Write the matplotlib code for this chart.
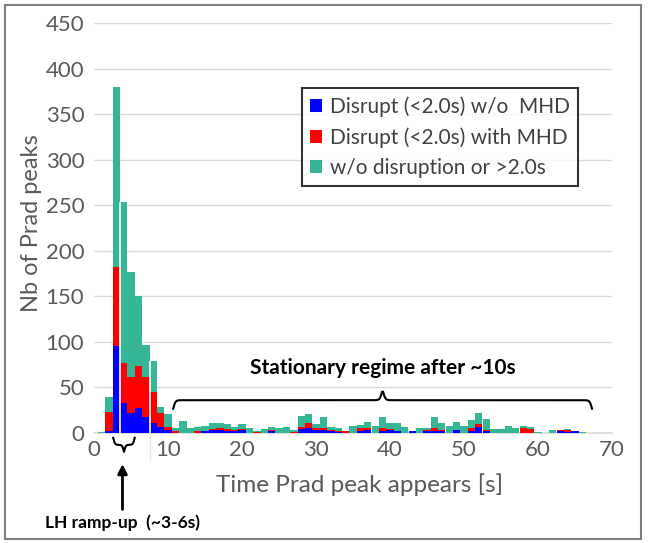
import numpy as np
import matplotlib
matplotlib.use('Agg')
import matplotlib.pyplot as plt
from matplotlib.patches import Rectangle

# time bins [s] (1 s wide, centred on integer seconds)
times = list(range(1, 67))

# total peaks per bin
total = [1, 40, 380, 253, 177, 150, 97, 79, 28, 21,
         5, 13, 6, 7, 8, 11, 11, 10, 7, 10,
         5, 2, 4, 7, 6, 7, 3, 19, 21, 10,
         18, 7, 6, 2, 8, 9, 12, 8, 18, 11,
         11, 7, 2, 5, 6, 18, 11, 8, 12, 8,
         14, 22, 15, 4, 4, 8, 5, 8, 7, 1,
         0, 3, 3, 4, 2, 1]

# disrupt (<2.0s) w/o MHD
no_mhd = [0, 2, 95, 33, 22, 27, 18, 11, 7, 3,
          0, 0, 0, 0, 2, 3, 3, 2, 2, 3,
          0, 0, 0, 2, 0, 0, 0, 4, 5, 3,
          3, 2, 1, 0, 0, 2, 3, 0, 2, 3,
          2, 0, 2, 0, 2, 2, 2, 0, 3, 0,
          2, 7, 2, 0, 0, 0, 0, 0, 0, 0,
          0, 0, 2, 1, 2, 0]

# disrupt (<2.0s) with MHD
with_mhd = [0, 21, 87, 44, 40, 46, 43, 34, 15, 4,
            2, 0, 0, 2, 0, 1, 2, 2, 1, 1,
            0, 1, 0, 1, 0, 0, 1, 3, 6, 2,
            3, 1, 1, 2, 0, 3, 3, 0, 3, 1,
            0, 0, 0, 0, 1, 3, 1, 0, 0, 0,
            3, 3, 1, 0, 0, 0, 0, 6, 4, 0,
            0, 0, 1, 2, 0, 0]

labels = ['Disrupt (<2.0s) w/o  MHD', 'Disrupt (<2.0s) with MHD',
          'w/o disruption or >2.0s']

t = np.array(times)
blue = np.array(no_mhd)
red = np.array(with_mhd)
teal = np.array(total) - blue - red

plt.rcParams['font.family'] = ['Lato', 'DejaVu Sans']

fig = plt.figure(figsize=(6.5, 5.43), dpi=100)
ax = fig.add_axes([94/650, 1 - 433/543, 518/650, 410/543])

ax.bar(t, blue, width=1.0, color='#0000ff', label=labels[0], zorder=3)
ax.bar(t, red, width=1.0, bottom=blue, color='#ff0000', label=labels[1], zorder=3)
ax.bar(t, teal, width=1.0, bottom=blue + red, color='#36b696', label=labels[2], zorder=3)

# thin white overlay lines seen on the reference
ax.vlines([3.5], 0, 253, color='white', lw=1.2, zorder=4)
ax.vlines([7.5], 0, 79, color='white', lw=1.2, zorder=4)

ax.set_xlim(0, 70)
ax.set_ylim(0, 450)
ax.set_xticks(range(0, 71, 10))
ax.set_yticks(range(0, 451, 50))
ax.tick_params(length=0, labelsize=16, colors='#595959')
ax.tick_params(axis='x', pad=5)
ax.tick_params(axis='y', pad=7)
ax.grid(axis='y', color='#d9d9d9', lw=1, zorder=0)
for s in ['top', 'right', 'left']:
    ax.spines[s].set_visible(False)
ax.spines['bottom'].set_color('#d9d9d9')
ax.spines['bottom'].set_linewidth(1.2)

ax.set_ylabel('Nb of Prad peaks', fontsize=17, color='#595959')
ax.yaxis.set_label_coords(-0.100, 0.512)
ax.set_xlabel('Time Prad peak appears [s]', fontsize=17.5, color='#595959')
ax.xaxis.set_label_coords(0.513, -0.098)

leg = ax.legend(loc='upper left', bbox_to_anchor=(0.4015, 0.841), borderaxespad=0,
                fontsize=15, frameon=True, fancybox=False, handlelength=0.6,
                handleheight=0.6, handletextpad=0.35, labelspacing=0.5,
                borderpad=0.38)
leg.get_frame().set_edgecolor('black')
leg.get_frame().set_linewidth(1.5)
for txt in leg.get_texts():
    txt.set_color('#404040')


def brace(ax, x0, x1, y, h, up=True, beta=1.0):
    # curly brace drawn in pixel space, then put back into data coords
    trans = ax.transData
    (px0, py), (px1, _) = trans.transform([(x0, y), (x1, y)])
    n = 400
    xs = np.linspace(px0, px1, n)
    half = xs[:n // 2]
    yh = 1 / (1 + np.exp(-beta * (half - half[0]))) + 1 / (1 + np.exp(-beta * (half - half[-1])))
    ys = np.concatenate([yh, yh[::-1]])
    ys = (ys - 1) * h
    if not up:
        ys = -ys
    pts = trans.inverted().transform(np.column_stack([xs, py + ys]))
    ax.plot(pts[:, 0], pts[:, 1], color='black', lw=1.5, clip_on=False, zorder=5)


# stationary regime brace + label
brace(ax, 10.7, 67.3, 36, 17, up=True, beta=0.9)
ax.text(39, 71, 'Stationary regime after ~10s', ha='center', va='center',
        fontsize=15, fontweight='bold', color='black')

# LH ramp-up brace below the axis
brace(ax, 2.6, 5.5, -13, 14, up=False, beta=1.2)
ax.plot([7.5, 7.5], [0, -30], color='#e6e6e6', lw=1, clip_on=False)
ax.annotate('', xy=(3.85, -31), xytext=(3.85, -87),
            arrowprops=dict(arrowstyle='-|>', color='black', lw=2, mutation_scale=14),
            annotation_clip=False)
ax.text(3.85, -98, 'LH ramp-up  (~3-6s)', ha='center', va='center',
        fontsize=12.5, fontweight='bold', color='black')

# outer frame of the picture
fig.patches.append(Rectangle((5/650, 4/543), 636/650, 534/543, transform=fig.transFigure,
                             fill=False, edgecolor='#808080', lw=1.5))

fig.savefig('out.png', dpi=100)
